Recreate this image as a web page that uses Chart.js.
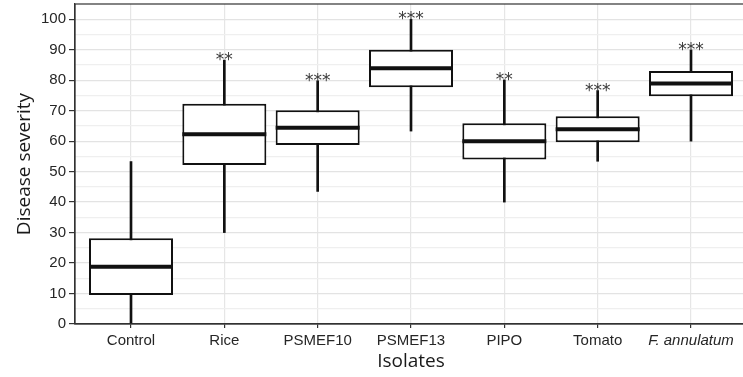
<!DOCTYPE html>
<html>
<head>
<meta charset="utf-8">
<script src="https://cdn.jsdelivr.net/npm/chart.js@4/dist/chart.umd.min.js"></script>
<style>
  html, body { margin: 0; padding: 0; background: #fff; overflow: hidden; }
  #wrap { width: 760px; height: 377px; }
</style>
</head>
<body>
<div id="wrap"><canvas id="chart"></canvas></div>
<script>
// Disease severity by isolate: box-plot summaries
const categories = ['Control', 'Rice', 'PSMEF10', 'PSMEF13', 'PIPO', 'Tomato', 'F. annulatum'];
const whiskerLow  = [0,    30.0, 43.5, 63.3, 40.0, 53.4, 60.0];
const quartile1   = [9.5,  52.2, 58.7, 77.7, 54.0, 59.6, 74.7];
const medians     = [18.8, 62.3, 64.4, 83.9, 60.0, 63.9, 78.9];
const quartile3   = [28.1, 72.3, 70.1, 90.0, 65.9, 68.2, 83.0];
const whiskerHigh = [53.3, 86.6, 79.8, 100.0, 80.1, 76.6, 89.9];
const significance = ['', '**', '***', '***', '**', '***', '***'];
const yTicks = [0, 10, 20, 30, 40, 50, 60, 70, 80, 90, 100];

const INK = '#111111';
const TICK_FONT = "'Liberation Sans', Arial, sans-serif";
const TITLE_FONT = "'Open Sans', sans-serif";

const whiskerData = categories.map((c, i) => ({ x: i, y: [whiskerLow[i], whiskerHigh[i]] }));
const boxData = categories.map((c, i) => ({ x: i, y: [quartile1[i], quartile3[i]] }));

// Median bars and significance stars, positioned through the scales
const boxExtras = {
  id: 'boxExtras',
  afterDatasetsDraw(chart) {
    const { ctx, scales: { y } } = chart;
    const boxes = chart.getDatasetMeta(1).data;
    const whiskers = chart.getDatasetMeta(0).data;
    ctx.save();
    boxes.forEach((el, i) => {
      const { x, width } = el.getProps(['x', 'width'], true);
      const ym = y.getPixelForValue(medians[i]);
      ctx.strokeStyle = INK;
      ctx.lineWidth = 4;
      ctx.beginPath();
      ctx.moveTo(x - width / 2, ym);
      ctx.lineTo(x + width / 2, ym);
      ctx.stroke();
    });
    ctx.fillStyle = '#3a3a3a';
    ctx.font = "17px 'DejaVu Sans', sans-serif";
    ctx.textAlign = 'center';
    ctx.textBaseline = 'alphabetic';
    whiskers.forEach((el, i) => {
      if (!significance[i]) return;
      const { x } = el.getProps(['x'], true);
      ctx.fillText(significance[i], x, y.getPixelForValue(whiskerHigh[i]) + 5);
    });
    ctx.restore();
  }
};

// Panel frame
const panelFrame = {
  id: 'panelFrame',
  afterDraw(chart) {
    const { ctx, chartArea: a } = chart;
    ctx.save();
    ctx.strokeStyle = '#333';
    ctx.lineWidth = 1.2;
    ctx.strokeRect(a.left, a.top, a.right - a.left, a.bottom - a.top);
    ctx.restore();
  }
};

new Chart(document.getElementById('chart'), {
  type: 'bar',
  data: {
    datasets: [
      {
        label: 'whiskers',
        data: whiskerData,
        backgroundColor: INK,
        barThickness: 2,
        grouped: false,
        order: 2
      },
      {
        label: 'boxes',
        data: boxData,
        backgroundColor: '#ffffff',
        borderColor: INK,
        borderWidth: 2,
        borderSkipped: false,
        barPercentage: 0.9,
        categoryPercentage: 1.0,
        grouped: false,
        order: 1
      }
    ]
  },
  options: {
    responsive: true,
    maintainAspectRatio: false,
    animation: false,
    layout: { padding: { top: 4, right: 13, left: 0, bottom: 0 } },
    plugins: { legend: { display: false }, tooltip: { enabled: false } },
    scales: {
      x: {
        type: 'linear',
        min: -0.6,
        max: categories.length - 0.4,
        offset: false,
        afterBuildTicks(scale) {
          scale.ticks = categories.map((c, i) => ({ value: i }));
        },
        afterFit(scale) {
          scale.height = 53;
          scale.paddingLeft = 0;
          scale.paddingRight = 0;
        },
        ticks: {
          autoSkip: false,
          maxRotation: 0,
          padding: 4,
          color: '#262626',
          font: (ctx) => ({
            family: TICK_FONT,
            size: 15,
            style: ctx.tick && ctx.tick.value === categories.length - 1 ? 'italic' : 'normal'
          }),
          callback: (v) => categories[v]
        },
        grid: { color: '#e6e6e6', lineWidth: 1.2, tickColor: '#333', tickLength: 4, offset: false },
        border: { color: '#333', width: 1.2 },
        title: {
          display: true,
          text: 'Isolates',
          color: '#1a1a1a',
          font: { family: TITLE_FONT, size: 19 },
          padding: { top: 0, bottom: 4.5 }
        }
      },
      y: {
        min: 0,
        max: 105,
        afterBuildTicks(scale) {
          const t = [];
          for (let v = 0; v <= 100; v += 5) t.push({ value: v });
          scale.ticks = t;
        },
        afterFit(scale) {
          scale.width = 75;
          scale.paddingTop = 0;
          scale.paddingBottom = 0;
        },
        ticks: {
          autoSkip: false,
          padding: 3,
          color: '#262626',
          font: { family: TICK_FONT, size: 15 },
          callback: (v) => (yTicks.includes(v) ? String(v) : '')
        },
        grid: {
          color: (ctx) => (ctx.tick && ctx.tick.value % 10 === 0 ? '#e3e3e3' : '#efefef'),
          lineWidth: 1.2,
          tickColor: (ctx) => (ctx.tick && ctx.tick.value % 10 === 0 ? '#333' : 'rgba(0,0,0,0)'),
          tickLength: 6
        },
        border: { color: '#333', width: 1.2 },
        title: {
          display: true,
          text: 'Disease severity',
          color: '#1a1a1a',
          font: { family: TITLE_FONT, size: 19 },
          padding: { top: 13.6, bottom: 0 }
        }
      }
    }
  },
  plugins: [boxExtras, panelFrame]
});
</script>
</body>
</html>
